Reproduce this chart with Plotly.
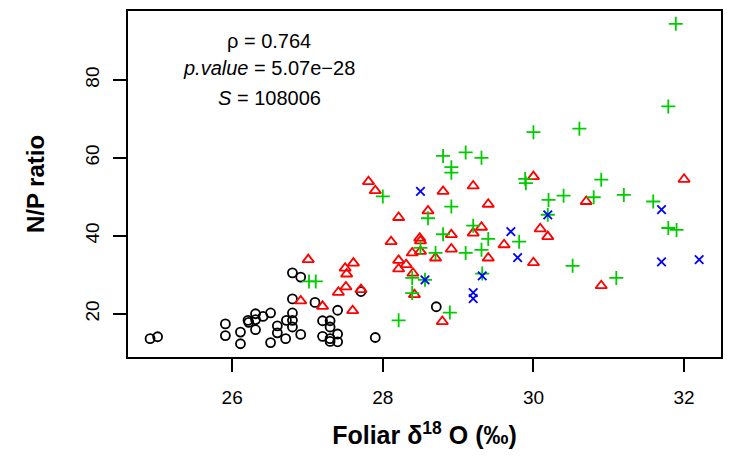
import plotly.graph_objects as go

# Foliar delta-18O (x) and N/P ratio (y) for four groups of samples
group1_d18o = [24.91, 25.01, 25.91, 25.91, 26.11, 26.11, 26.21, 26.22, 26.31, 26.31,
               26.31, 26.41, 26.51, 26.51, 26.60, 26.60, 26.80, 26.91, 26.80, 27.10,
               27.40, 26.80, 26.72, 26.80, 26.80, 26.71, 26.91, 27.20, 27.30, 27.30,
               27.20, 27.30, 27.40, 27.40, 27.30, 27.90, 27.71, 28.71]
group1_np = [13.6, 14.1, 17.4, 14.4, 15.3, 12.3, 18.3, 17.8, 20.0, 18.5,
             15.9, 19.3, 20.2, 12.6, 16.9, 15.1, 30.5, 29.4, 23.8, 22.9,
             20.9, 20.2, 18.3, 18.3, 16.6, 13.6, 14.7, 18.2, 18.2, 16.6,
             14.2, 13.6, 14.8, 12.8, 12.9, 13.9, 25.7, 21.8]

group2_d18o = [27.01, 27.61, 27.50, 27.52, 27.51, 27.41, 27.71, 26.91, 27.20, 27.60,
               28.11, 28.21, 28.21, 28.31, 28.39, 28.40, 28.42, 27.81, 27.90, 28.80,
               29.20, 29.40, 28.21, 28.60, 28.49, 28.50, 28.91, 29.31, 29.20, 28.91,
               28.70, 28.50, 29.40, 30.00, 30.70, 30.09, 30.19, 29.61, 32.00, 30.90,
               28.79, 30.00]
group2_np = [33.9, 33.0, 31.7, 30.2, 26.9, 25.5, 26.2, 23.3, 21.9, 20.8,
             38.5, 33.7, 31.5, 32.6, 35.6, 30.4, 24.9, 53.9, 51.6, 51.4,
             52.8, 48.1, 44.7, 46.4, 39.4, 38.7, 40.3, 42.2, 40.7, 36.6,
             34.3, 36.0, 34.3, 55.2, 48.8, 41.8, 39.8, 37.7, 54.5, 27.2,
             18.0, 33.1]

group3_d18o = [27.02, 27.11, 28.21, 28.39, 28.39, 28.80, 29.10, 29.31, 28.91, 28.91,
               28.00, 28.91, 28.60, 28.80, 29.20, 29.40, 28.50, 28.70, 29.10, 29.31,
               30.00, 30.61, 29.89, 29.90, 30.40, 30.20, 30.19, 30.80, 29.81, 31.89,
               31.79, 30.90, 31.20, 31.59, 31.79, 31.90, 31.10, 28.89, 29.32, 30.52,
               28.56]
group3_np = [28.3, 28.3, 18.3, 29.2, 25.3, 60.5, 61.4, 60.0, 57.6, 56.2,
             50.1, 47.5, 44.5, 40.4, 42.6, 39.2, 36.9, 35.6, 35.6, 36.4,
             66.6, 67.5, 54.6, 53.5, 50.3, 49.2, 45.4, 49.9, 38.5, 94.4,
             73.2, 54.4, 50.5, 48.8, 42.0, 41.5, 29.2, 20.3, 30.3, 32.3,
             28.7]

group4_d18o = [28.50, 30.19, 29.70, 31.70, 31.70, 32.20, 29.79, 29.32, 29.20, 29.20, 28.56]
group4_np = [51.4, 45.4, 41.1, 46.7, 33.3, 33.9, 34.4, 29.7, 25.4, 23.9, 28.7]

x_ticks = [26, 28, 30, 32]
y_ticks = [20, 40, 60, 80]

stats_lines = ["ρ = 0.764", "<i>p.value</i> = 5.07e−28", "<i>S</i> = 108006"]

FONT = "Liberation Sans, Arial, sans-serif"

fig = go.Figure()

groups = [
    (group1_d18o, group1_np, "circle-open", "#000000", 9),
    (group2_d18o, group2_np, "triangle-up-open", "#FF0000", 10),
    (group3_d18o, group3_np, "cross-thin-open", "#00CD00", 10),
    (group4_d18o, group4_np, "x-thin-open", "#0000FF", 8.5),
]
for xs, ys, sym, col, sz in groups:
    fig.add_trace(go.Scatter(
        x=xs, y=ys, mode="markers",
        marker=dict(symbol=sym, color=col, size=sz, line=dict(color=col, width=1.8)),
        showlegend=False, hoverinfo="skip",
    ))

# statistics block in the upper-left corner
for text, ypos in zip(stats_lines, [90.1, 83.0, 75.4]):
    fig.add_annotation(x=26.49, y=ypos, xref="x", yref="y", text=text,
                       showarrow=False, font=dict(family=FONT, size=20, color="black"),
                       xanchor="center", yanchor="middle")

axis_common = dict(
    showgrid=False, zeroline=False, showline=True, mirror=True,
    linecolor="black", linewidth=1.6, ticks="outside", ticklen=13,
    tickwidth=1.6, tickcolor="black",
    tickfont=dict(family=FONT, size=19, color="black"),
)

fig.update_layout(
    width=730, height=456,
    margin=dict(l=128, r=7, t=11, b=99),
    paper_bgcolor="white", plot_bgcolor="white",
    xaxis=dict(range=[24.617, 32.49], tickvals=x_ticks, ticklabelstandoff=9,
               title=dict(text="Foliar δ<sup>18</sup> O (‰)",
                          font=dict(family=FONT, size=25, color="black", weight="bold"),
                          standoff=20),
               **axis_common),
    yaxis=dict(range=[8.9, 97.69], tickvals=y_ticks, tickangle=-90, ticklabelstandoff=7,
               title=dict(text="N/P ratio",
                          font=dict(family=FONT, size=24, color="black", weight="bold"),
                          standoff=30),
               **axis_common),
)

fig.write_html("out.html")
